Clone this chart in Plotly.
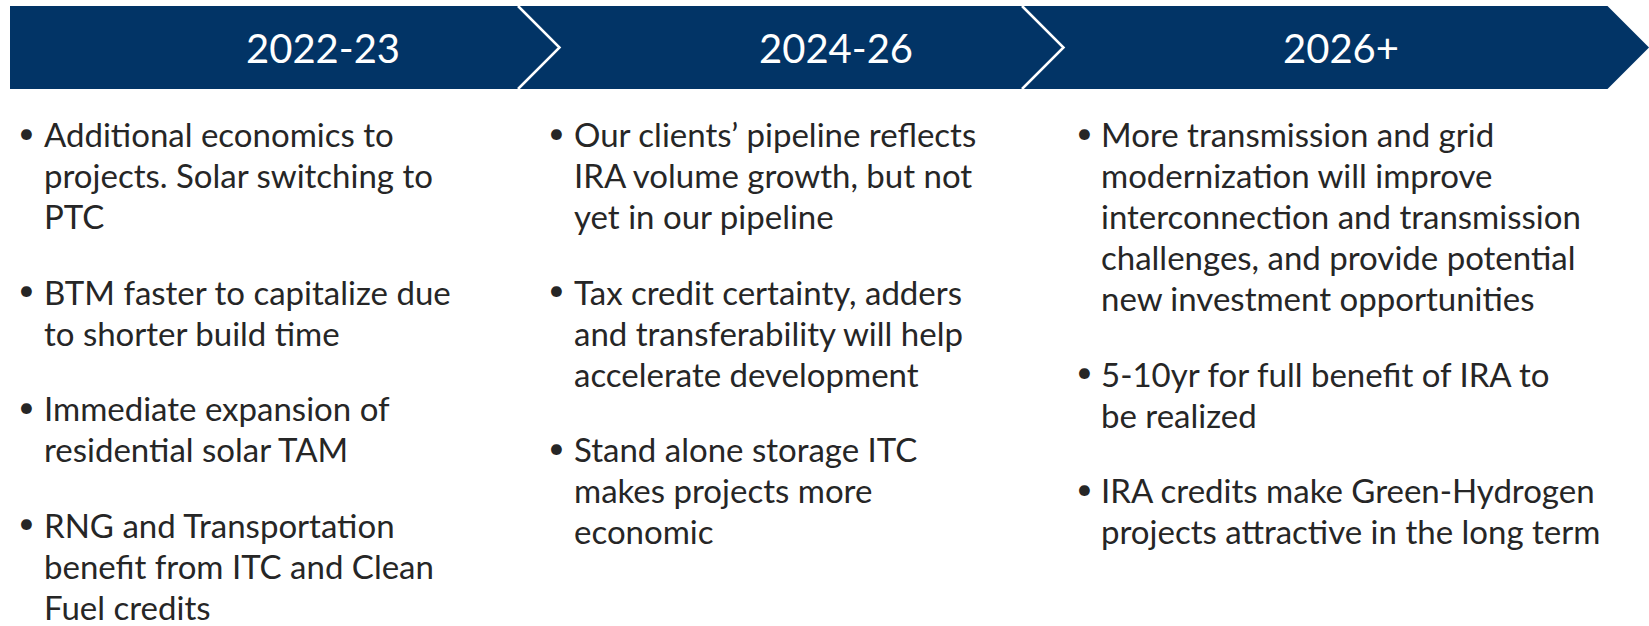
import plotly.graph_objects as go

# ---- data ----
periods = ["2022-23", "2024-26", "2026+"]

col1_bullets = [
    ["Additional economics to", "projects. Solar switching to", "PTC"],
    ["BTM faster to capitalize due", "to shorter build time"],
    ["Immediate expansion of", "residential solar TAM"],
    ["RNG and Transportation", "benefit from ITC and Clean", "Fuel credits"],
]
col2_bullets = [
    ["Our clients\u2019 pipeline reflects", "IRA volume growth, but not", "yet in our pipeline"],
    ["Tax credit certainty, adders", "and transferability will help", "accelerate development"],
    ["Stand alone storage ITC", "makes projects more", "economic"],
]
col3_bullets = [
    ["More transmission and grid", "modernization will improve", "interconnection and transmission",
     "challenges, and provide potential", "new investment opportunities"],
    ["5-10yr for full benefit of IRA to", "be realized"],
    ["IRA credits make Green-Hydrogen", "projects attractive in the long term"],
]
columns = [col1_bullets, col2_bullets, col3_bullets]

# ---- layout constants ----
W, H = 1649, 626
NAVY = "#023466"
TEXT = "#262626"
FONT = "Lato"
band_top, band_bot = 6, 89
band_mid = (band_top + band_bot) / 2
band_left = 10
notch = band_bot - band_mid  # 45-degree chevron depth
sep_x = [518, 1022]          # chevron seam starts
end_x = W - notch
header_cx = [323, 836, 1341]
text_x = [42, 572, 1099]
bullet_x = [26, 556, 1084]
first_line_y = 134
line_step = 41
para_gap = 75.5
body_size = 33
header_size = 40

fig = go.Figure()

shapes = []
shapes.append(dict(
    type="path", xref="x", yref="y",
    path=(f"M {band_left},{band_top} L {end_x},{band_top} L {W},{band_mid} "
          f"L {end_x},{band_bot} L {band_left},{band_bot} Z"),
    fillcolor=NAVY, line=dict(width=0), layer="below"))
for sx in sep_x:
    shapes.append(dict(
        type="path", xref="x", yref="y",
        path=f"M {sx},{band_top} L {sx + notch},{band_mid} L {sx},{band_bot}",
        line=dict(color="white", width=2.5)))

annotations = []
for cx, label in zip(header_cx, periods):
    annotations.append(dict(x=cx, y=band_mid, xref="x", yref="y", text=label,
                            showarrow=False, xanchor="center", yanchor="middle",
                            font=dict(family=FONT, size=header_size, color="white")))

for ci, bullets in enumerate(columns):
    y = first_line_y
    for bullet in bullets:
        annotations.append(dict(x=bullet_x[ci], y=y - 3, xref="x", yref="y", text="\u2022",
                                showarrow=False, xanchor="center", yanchor="middle",
                                font=dict(family=FONT, size=body_size - 4, color=TEXT)))
        for k, line in enumerate(bullet):
            annotations.append(dict(x=text_x[ci], y=y, xref="x", yref="y", text=line,
                                    showarrow=False, xanchor="left", yanchor="middle",
                                    font=dict(family=FONT, size=body_size, color=TEXT)))
            if k < len(bullet) - 1:
                y += line_step
        y += para_gap

fig.update_layout(
    width=W, height=H,
    margin=dict(l=0, r=0, t=0, b=0),
    paper_bgcolor="white", plot_bgcolor="white",
    xaxis=dict(range=[0, W], visible=False, fixedrange=True),
    yaxis=dict(range=[H, 0], visible=False, fixedrange=True),
    shapes=shapes, annotations=annotations,
    showlegend=False,
)

fig.write_html("out.html", config={"displayModeBar": False},
               post_script="document.body.style.margin='0';document.body.style.overflow='hidden';")
